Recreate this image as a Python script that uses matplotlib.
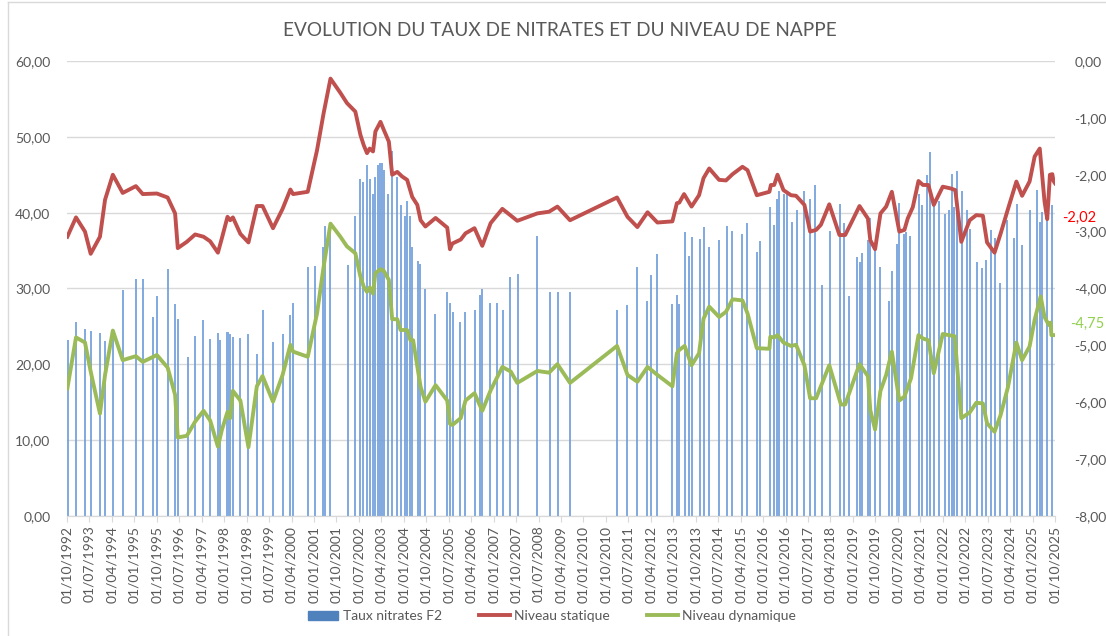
import matplotlib
matplotlib.use("Agg")
import matplotlib.pyplot as plt
from matplotlib.ticker import FuncFormatter, MultipleLocator
from matplotlib.lines import Line2D
from matplotlib.patches import Patch

plt.rcParams['font.family'] = ['Lato', 'DejaVu Sans']

# Dates are decimal years (1992.75 = 01/10/1992)

# Taux nitrates F2 (mg/L, left axis)
nitrates_t = [1992.77, 1993.05, 1993.36, 1993.54, 1993.85, 1994.03, 1994.28, 1994.62,
              1995.05, 1995.28, 1995.62, 1995.77, 1996.11, 1996.37, 1996.45, 1996.79,
              1997.03, 1997.30, 1997.53, 1997.79, 1997.87, 1998.11, 1998.21, 1998.29,
              1998.54, 1998.80, 1999.10, 1999.28, 1999.63, 1999.95, 2000.21, 2000.29,
              2000.79, 2001.04, 2001.30, 2001.37, 2001.55, 2002.13, 2002.36, 2002.55,
              2002.63, 2002.77, 2002.86, 2002.96, 2003.05, 2003.13, 2003.20, 2003.27,
              2003.35, 2003.46, 2003.62, 2003.78, 2003.89, 2004.04, 2004.12, 2004.20,
              2004.28, 2004.47, 2004.53, 2004.70, 2005.05, 2005.45, 2005.53, 2005.63,
              2005.89, 2006.04, 2006.38, 2006.53, 2006.62, 2006.88, 2007.11, 2007.30,
              2007.53, 2007.80, 2008.45, 2008.87, 2009.14, 2009.55, 2011.11, 2011.47,
              2011.78, 2012.11, 2012.27, 2012.47, 2012.97, 2013.12, 2013.20, 2013.38,
              2013.54, 2013.62, 2013.88, 2014.04, 2014.20, 2014.54, 2014.81, 2014.96,
              2015.31, 2015.46, 2015.79, 2015.88, 2016.22, 2016.37, 2016.45, 2016.53,
              2016.71, 2016.79, 2016.95, 2017.13, 2017.38, 2017.57, 2017.73, 2017.96,
              2018.22, 2018.56, 2018.71, 2018.88, 2019.14, 2019.22, 2019.31, 2019.50,
              2019.58, 2019.74, 2019.91, 2020.22, 2020.29, 2020.48, 2020.55, 2020.70,
              2020.78, 2020.90, 2021.22, 2021.31, 2021.48, 2021.56, 2021.72, 2021.89,
              2022.06, 2022.21, 2022.31, 2022.39, 2022.47, 2022.64, 2022.82, 2022.90,
              2023.14, 2023.31, 2023.46, 2023.62, 2023.74, 2023.90, 2024.16, 2024.38,
              2024.48, 2024.66, 2024.90, 2025.16, 2025.24, 2025.33, 2025.49, 2025.65]
nitrates_v = [23.2, 25.6, 24.7, 24.4, 24.1, 23.1, 24.4, 29.8,
              31.3, 31.3, 26.2, 29.0, 32.6, 28.0, 26.0, 21.0,
              23.8, 25.8, 23.3, 24.1, 23.2, 24.2, 24.0, 23.6,
              23.5, 24.0, 21.4, 27.2, 22.9, 24.0, 26.5, 28.1,
              32.8, 33.0, 35.5, 38.2, 37.7, 33.1, 39.5, 44.4,
              44.0, 46.3, 44.5, 42.5, 44.7, 46.3, 46.5, 46.5,
              45.6, 42.5, 48.1, 44.7, 41.0, 39.5, 41.5, 39.5,
              35.5, 33.6, 33.2, 29.9, 26.6, 29.6, 28.1, 26.9,
              25.6, 26.9, 27.2, 29.1, 29.9, 28.1, 28.1, 27.1,
              31.5, 31.9, 36.9, 29.6, 29.6, 29.6, 27.1, 27.8,
              32.8, 28.4, 31.8, 34.6, 28.0, 29.2, 28.0, 37.5,
              34.3, 36.8, 36.5, 38.1, 35.5, 36.4, 38.2, 37.6,
              37.2, 38.7, 34.8, 36.3, 40.7, 38.4, 41.8, 42.8,
              42.5, 42.6, 38.8, 40.4, 42.9, 41.8, 43.7, 30.5,
              37.6, 41.1, 38.7, 29.0, 34.2, 33.5, 34.7, 36.4,
              39.3, 35.1, 32.8, 28.3, 32.3, 35.9, 41.3, 37.2,
              37.4, 36.9, 42.5, 41.0, 45.0, 48.0, 41.0, 41.5,
              39.8, 40.4, 45.1, 40.8, 45.5, 42.8, 40.3, 37.9,
              33.5, 32.7, 33.8, 37.7, 36.6, 30.7, 39.0, 36.7,
              41.1, 35.7, 40.4, 43.0, 38.8, 40.1, 39.3, 41.0]

# Niveau statique (m, right axis)
statique_t = [1992.76, 1993.05, 1993.35, 1993.54, 1993.85, 1994.02, 1994.28, 1994.61,
              1995.05, 1995.28, 1995.75, 1996.11, 1996.36, 1996.45, 1996.75, 1997.03,
              1997.31, 1997.53, 1997.79, 1997.92, 1998.11, 1998.20, 1998.29, 1998.54,
              1998.81, 1999.09, 1999.28, 1999.63, 1999.95, 2000.21, 2000.30, 2000.79,
              2001.10, 2001.32, 2001.55, 2001.88, 2002.10, 2002.38, 2002.55, 2002.66,
              2002.77, 2002.86, 2002.97, 2003.05, 2003.22, 2003.33, 2003.50, 2003.61,
              2003.78, 2003.94, 2004.11, 2004.28, 2004.45, 2004.56, 2004.72, 2005.06,
              2005.45, 2005.54, 2005.62, 2005.90, 2006.06, 2006.36, 2006.62, 2006.90,
              2007.29, 2007.79, 2008.46, 2008.85, 2009.13, 2009.55, 2011.12, 2011.47,
              2011.80, 2012.14, 2012.47, 2012.97, 2013.12, 2013.20, 2013.36, 2013.61,
              2013.86, 2014.01, 2014.20, 2014.53, 2014.76, 2014.98, 2015.31, 2015.48,
              2015.79, 2016.21, 2016.26, 2016.37, 2016.48, 2016.68, 2016.93, 2017.10,
              2017.38, 2017.57, 2017.77, 2017.93, 2018.21, 2018.55, 2018.74, 2018.94,
              2019.22, 2019.50, 2019.58, 2019.74, 2019.92, 2020.11, 2020.30, 2020.55,
              2020.72, 2020.83, 2021.00, 2021.19, 2021.34, 2021.52, 2021.70, 2022.00,
              2022.26, 2022.42, 2022.62, 2022.90, 2023.12, 2023.34, 2023.48, 2023.73,
              2023.93, 2024.18, 2024.46, 2024.65, 2024.90, 2025.07, 2025.24, 2025.40,
              2025.49, 2025.58, 2025.66, 2025.70, 2025.75]
statique_v = [-3.09, -2.75, -3.00, -3.39, -3.09, -2.44, -2.00, -2.32,
              -2.20, -2.34, -2.33, -2.40, -2.68, -3.29, -3.18, -3.05,
              -3.09, -3.17, -3.37, -3.12, -2.74, -2.80, -2.75, -3.04,
              -3.19, -2.55, -2.55, -2.94, -2.60, -2.26, -2.34, -2.30,
              -1.57, -0.92, -0.31, -0.56, -0.74, -0.89, -1.30, -1.48,
              -1.62, -1.54, -1.59, -1.24, -1.07, -1.21, -1.42, -2.00,
              -1.95, -2.03, -2.09, -2.39, -2.53, -2.80, -2.91, -2.76,
              -2.93, -3.31, -3.21, -3.14, -3.03, -2.94, -3.25, -2.85,
              -2.60, -2.81, -2.68, -2.65, -2.56, -2.80, -2.40, -2.74,
              -2.92, -2.66, -2.84, -2.82, -2.50, -2.49, -2.34, -2.56,
              -2.36, -2.06, -1.89, -2.09, -2.10, -1.99, -1.86, -1.92,
              -2.36, -2.30, -2.18, -2.18, -2.00, -2.27, -2.36, -2.37,
              -2.53, -3.00, -2.97, -2.88, -2.52, -3.06, -3.06, -2.85,
              -2.55, -2.77, -3.15, -3.31, -2.68, -2.56, -2.30, -3.00,
              -2.97, -2.77, -2.57, -2.11, -2.18, -2.18, -2.53, -2.21,
              -2.24, -2.27, -3.18, -2.80, -2.71, -2.72, -3.19, -3.37,
              -3.04, -2.60, -2.12, -2.37, -2.12, -1.68, -1.54, -2.47,
              -2.78, -2.00, -1.99, -2.11, -2.15]

# Niveau dynamique (m, right axis)
dynamique_t = [1992.76, 1993.05, 1993.35, 1993.54, 1993.85, 1994.02, 1994.28, 1994.61,
               1995.05, 1995.28, 1995.75, 1996.11, 1996.36, 1996.45, 1996.75, 1997.03,
               1997.31, 1997.53, 1997.79, 1997.92, 1998.11, 1998.20, 1998.29, 1998.54,
               1998.81, 1999.09, 1999.28, 1999.63, 1999.95, 2000.21, 2000.30, 2000.79,
               2001.10, 2001.32, 2001.55, 2001.88, 2002.10, 2002.38, 2002.55, 2002.66,
               2002.77, 2002.86, 2002.97, 2003.05, 2003.22, 2003.33, 2003.50, 2003.61,
               2003.78, 2003.89, 2004.11, 2004.22, 2004.31, 2004.56, 2004.72, 2005.06,
               2005.45, 2005.54, 2005.62, 2005.90, 2006.06, 2006.36, 2006.62, 2006.90,
               2007.29, 2007.57, 2007.79, 2008.46, 2008.85, 2009.13, 2009.55, 2011.12,
               2011.47, 2011.80, 2012.14, 2012.47, 2012.97, 2013.12, 2013.20, 2013.38,
               2013.61, 2013.86, 2014.01, 2014.20, 2014.53, 2014.76, 2014.98, 2015.31,
               2015.48, 2015.79, 2016.21, 2016.24, 2016.37, 2016.48, 2016.68, 2016.93,
               2017.10, 2017.38, 2017.57, 2017.77, 2018.21, 2018.60, 2018.74, 2019.22,
               2019.50, 2019.58, 2019.74, 2019.92, 2020.11, 2020.30, 2020.55, 2020.72,
               2020.94, 2021.19, 2021.34, 2021.52, 2021.70, 2022.00, 2022.40, 2022.62,
               2022.90, 2023.12, 2023.34, 2023.48, 2023.73, 2023.93, 2024.18, 2024.46,
               2024.65, 2024.90, 2025.07, 2025.27, 2025.40, 2025.54, 2025.60, 2025.63,
               2025.75]
dynamique_v = [-5.76, -4.86, -4.95, -5.46, -6.20, -5.52, -4.74, -5.26,
               -5.19, -5.29, -5.17, -5.39, -5.87, -6.62, -6.59, -6.34,
               -6.15, -6.32, -6.78, -6.49, -6.17, -6.28, -5.80, -5.97,
               -6.79, -5.72, -5.54, -5.99, -5.52, -4.99, -5.11, -5.20,
               -4.44, -3.62, -2.86, -3.09, -3.26, -3.38, -3.79, -3.97,
               -4.06, -3.98, -4.09, -3.73, -3.66, -3.69, -3.85, -4.54,
               -4.54, -4.73, -4.73, -4.91, -4.91, -5.73, -5.99, -5.70,
               -5.97, -6.38, -6.40, -6.28, -5.97, -5.84, -6.15, -5.79,
               -5.38, -5.46, -5.66, -5.45, -5.48, -5.33, -5.66, -5.01,
               -5.52, -5.64, -5.38, -5.52, -5.72, -5.14, -5.08, -5.01,
               -5.35, -5.14, -4.53, -4.32, -4.50, -4.41, -4.19, -4.21,
               -4.44, -5.05, -5.06, -4.85, -4.86, -4.82, -4.95, -5.01,
               -4.99, -5.35, -5.93, -5.93, -5.35, -6.04, -6.04, -5.33,
               -5.54, -6.14, -6.48, -5.80, -5.52, -5.11, -5.97, -5.90,
               -5.58, -4.82, -4.88, -4.91, -5.49, -4.80, -4.84, -6.28,
               -6.18, -6.01, -6.02, -6.37, -6.52, -6.23, -5.73, -4.95,
               -5.26, -5.02, -4.55, -4.14, -4.50, -4.64, -4.60, -4.82,
               -4.82]

last_statique = "-2,02"
last_dynamique = "-4,75"

GREY = "#595959"
GRID = "#D9D9D9"
BLUE = "#6E9DDA"
RED = "#C0504D"
GREEN = "#9BBB59"


def fr(v, pos=None):
    return f"{v:.2f}".replace(".", ",")


def date_label(t):
    year = int(t + 1e-6)
    month = int(round((t - year) * 12)) + 1
    return f"01/{month:02d}/{year}"


fig = plt.figure(figsize=(11.06, 6.36), dpi=100)
ax = fig.add_axes([0.0606, 0.1887, 0.8933, 0.7154])
ax2 = ax.twinx()

# bars about 2 px wide
ax.bar(nitrates_t, nitrates_v, width=0.067, color=BLUE, alpha=0.85,
       linewidth=0, zorder=2)
ax2.plot(statique_t, statique_v, color=RED, lw=2.8, solid_joinstyle='round')
ax2.plot(dynamique_t, dynamique_v, color=GREEN, lw=2.8, solid_joinstyle='round')

ax.set_xlim(1992.75, 2025.75)
ax.set_ylim(0, 60)
ax2.set_ylim(-8, 0)
ax.yaxis.set_major_locator(MultipleLocator(10))
ax2.yaxis.set_major_locator(MultipleLocator(1))
ax.yaxis.set_major_formatter(FuncFormatter(fr))
ax2.yaxis.set_major_formatter(FuncFormatter(fr))
ax.grid(axis='y', color=GRID, lw=1.0, zorder=0)
ax.set_axisbelow(True)

xt = [1992.75 + 0.75 * k for k in range(45)]
ax.set_xticks(xt)
ax.set_xticklabels([date_label(t) for t in xt], rotation=90)

for a in (ax, ax2):
    for s in ('top', 'left', 'right'):
        a.spines[s].set_visible(False)
    a.spines['bottom'].set_color(GRID)
    a.tick_params(colors=GREY, labelsize=10)
ax.tick_params(axis='y', length=0, pad=12)
ax2.tick_params(axis='y', length=0, pad=14)
ax.tick_params(axis='x', length=4, color=GRID, pad=3)

ax2.annotate(last_statique, xy=(1.007, -2.75), xycoords=('axes fraction', 'data'),
             color="#FF0000", fontsize=10.5, va='center', ha='left')
ax2.annotate(last_dynamique, xy=(1.015, -4.62), xycoords=('axes fraction', 'data'),
             color="#92D050", fontsize=10.5, va='center', ha='left')

fig.text(0.506, 0.952, "EVOLUTION DU TAUX DE NITRATES ET DU NIVEAU DE NAPPE",
         ha='center', va='center', fontsize=13.7, color=GREY)

handles = [Patch(color="#4F81BD", label="Taux nitrates F2"),
           Line2D([], [], color=RED, lw=2.8, label="Niveau statique"),
           Line2D([], [], color=GREEN, lw=2.8, label="Niveau dynamique")]
fig.legend(handles=handles, loc='center', bbox_to_anchor=(0.499, 0.031), ncol=3,
           frameon=False, fontsize=10, labelcolor=GREY, handlelength=2.2,
           handletextpad=0.3, columnspacing=2.7)

# chart frame
fig.add_artist(Line2D([8 / 1106, 8 / 1106], [0, 1 - 2 / 636], color=GRID, lw=1,
                      transform=fig.transFigure))
fig.add_artist(Line2D([8 / 1106, 1], [1 - 2 / 636, 1 - 2 / 636], color=GRID, lw=1,
                      transform=fig.transFigure))

fig.savefig("out.png", dpi=100)
